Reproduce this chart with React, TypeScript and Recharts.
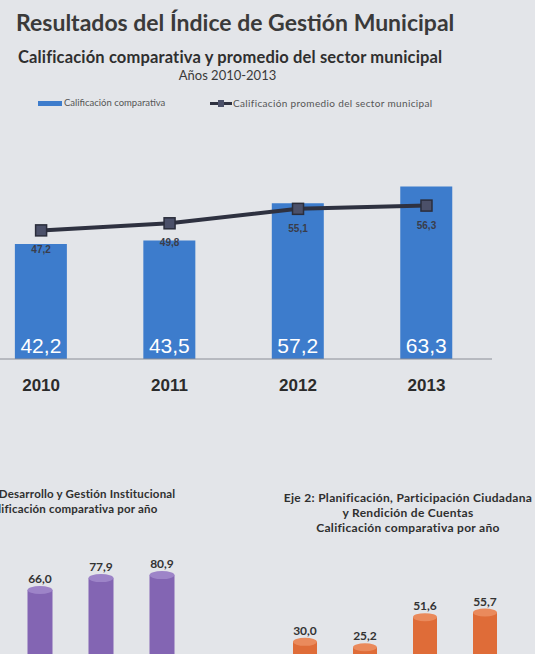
import { Bar, BarChart, ComposedChart, LabelList, Line, XAxis, YAxis } from "recharts";

// main chart
const years = [2010, 2011, 2012, 2013];
const comparativa = [42.2, 43.5, 57.2, 63.3];
const promedio = [47.2, 49.8, 55.1, 56.3];

// lower charts (cut off in the picture)
const eje1Years = ["2011", "2012", "2013"];
const eje1Values = [66.0, 77.9, 80.9];
const eje2Years = ["2010", "2011", "2012", "2013"];
const eje2Values = [30.0, 25.2, 51.6, 55.7];

const mainData = years.map((y, i) => ({ year: y, comparativa: comparativa[i], promedio: promedio[i] }));
const eje1Data = eje1Years.map((y, i) => ({ year: y, value: eje1Values[i] }));
const eje2Data = eje2Years.map((y, i) => ({ year: y, value: eje2Values[i] }));

const fmt = (v: any) => Number(v).toFixed(1).replace(".", ",");
const font = "Lato, 'Open Sans', sans-serif";

const SquareDot = (p: any) => (
  <rect key={`dot-${p.index}`} x={p.cx - 5.5} y={p.cy - 5.5} width={11} height={11} fill="#4b5069" stroke="#2a2d3b" strokeWidth={1.5} />
);

const cylinder = (top: string) => (p: any) => {
  const { x, y, width, height, fill } = p;
  const rx = width / 2;
  return (
    <g>
      <rect x={x} y={y} width={width} height={height + 40} fill={fill} />
      <ellipse cx={x + rx} cy={y} rx={rx} ry={4} fill={top} />
    </g>
  );
};

const txt = (style: any) => ({
  position: "absolute" as const,
  fontFamily: font,
  whiteSpace: "nowrap" as const,
  color: "#333",
  ...style,
});

export default function App() {
  return (
    <div
      style={{
        position: "absolute",
        left: 0,
        top: 0,
        width: 535,
        height: 654,
        overflow: "hidden",
        background: "#e3e5e9",
      }}
    >
      <div style={txt({ left: 16, top: 8, fontSize: 23, fontWeight: 700, color: "#3a3a3a" })}>
        Resultados del Índice de Gestión Municipal
      </div>
      <div style={txt({ left: 18, top: 47, fontSize: 16.5, letterSpacing: 0.15, fontWeight: 700, color: "#2f2f2f" })}>
        Calificación comparativa y promedio del sector municipal
      </div>
      <div style={txt({ left: 0, width: 455, textAlign: "center", top: 67, fontSize: 13, color: "#3a3a3a" })}>
        Años 2010-2013
      </div>

      {/* legend */}
      <div style={{ position: "absolute", left: 38, top: 101, width: 24, height: 5, background: "#3d7ccc" }} />
      <div style={txt({ left: 64, top: 97, fontSize: 9.5, color: "#555" })}>Calificación comparativa</div>
      <div style={{ position: "absolute", left: 210, top: 102, width: 22, height: 3, background: "#2e3140" }} />
      <div style={{ position: "absolute", left: 218, top: 100, width: 6, height: 7, background: "#4b5069" }} />
      <div style={txt({ left: 233, top: 97, fontSize: 10, letterSpacing: 0.35, color: "#555" })}>
        Calificación promedio del sector municipal
      </div>

      <div style={{ position: "absolute", left: 0, top: 0 }}>
        <ComposedChart
          width={535}
          height={400}
          data={mainData}
          margin={{ top: 141, right: 43, bottom: 0, left: 0 }}
        >
          <XAxis
            dataKey="year"
            type="number"
            domain={[2009.68, 2013.51]}
            ticks={years}
            allowDataOverflow
            height={41}
            tickLine={false}
            tickMargin={14}
            stroke="#8a8d96"
            tick={{ fill: "#2b2b2b", fontSize: 17, fontWeight: 700, fontFamily: "'Liberation Sans', Arial, sans-serif" }}
          />
          <YAxis hide domain={[0, 80]} />
          <Bar dataKey="comparativa" barSize={52} fill="#3d7ccc" isAnimationActive={false}>
            <LabelList
              dataKey="comparativa"
              position="insideBottom"
              offset={6}
              formatter={fmt}
              fill="#ffffff"
              fontSize={21}
              fontFamily="'Liberation Sans', Arial, sans-serif"
            />
          </Bar>
          <Line
            dataKey="promedio"
            stroke="#2e3140"
            strokeWidth={4}
            dot={SquareDot}
            activeDot={false}
            isAnimationActive={false}
          >
            <LabelList
              dataKey="promedio"
              position="bottom"
              offset={16}
              formatter={fmt}
              fill="#3a3d4a"
              fontSize={10}
              fontWeight={700}
              fontFamily="'Liberation Sans', Arial, sans-serif"
            />
          </Line>
        </ComposedChart>
      </div>

      {/* Eje 1 (cut off at left) */}
      <div style={txt({ left: -64, width: 270, textAlign: "center", top: 486, fontSize: 11.5, letterSpacing: 0.2, fontWeight: 700, lineHeight: "15px", color: "#2f2f2f" })}>
        Eje 1: Desarrollo y Gestión Institucional
        <br />
        Calificación comparativa por año
      </div>
      <div style={{ position: "absolute", left: 0, top: 470 }}>
        <BarChart width={230} height={200} data={eje1Data} margin={{ top: 86, right: 37.5, bottom: 14, left: 9.5 }}>
          <XAxis dataKey="year" hide />
          <YAxis hide domain={[0, 100]} />
          <Bar dataKey="value" barSize={25} fill="#8365b3" shape={cylinder("#9d84c8")} isAnimationActive={false}>
            <LabelList
              dataKey="value"
              position="top"
              offset={7}
              formatter={fmt}
              fill="#333"
              fontSize={12}
              fontWeight={700}
              fontFamily={font}
            />
          </Bar>
        </BarChart>
      </div>

      {/* Eje 2 */}
      <div style={txt({ left: 273, width: 270, textAlign: "center", top: 490, fontSize: 12, letterSpacing: 0.3, fontWeight: 700, lineHeight: "15px", color: "#2f2f2f" })}>
        Eje 2: Planificación, Participación Ciudadana
        <br />
        y Rendición de Cuentas
        <br />
        Calificación comparativa por año
      </div>
      <div style={{ position: "absolute", left: 255, top: 470 }}>
        <BarChart width={280} height={220} data={eje2Data} margin={{ top: 92, right: 20, bottom: 14, left: 20 }}>
          <XAxis dataKey="year" hide />
          <YAxis hide domain={[0, 100]} />
          <Bar dataKey="value" barSize={24} fill="#df6c38" shape={cylinder("#ea8a5c")} isAnimationActive={false}>
            <LabelList
              dataKey="value"
              position="top"
              offset={7}
              formatter={fmt}
              fill="#333"
              fontSize={12}
              fontWeight={700}
              fontFamily={font}
            />
          </Bar>
        </BarChart>
      </div>
    </div>
  );
}
